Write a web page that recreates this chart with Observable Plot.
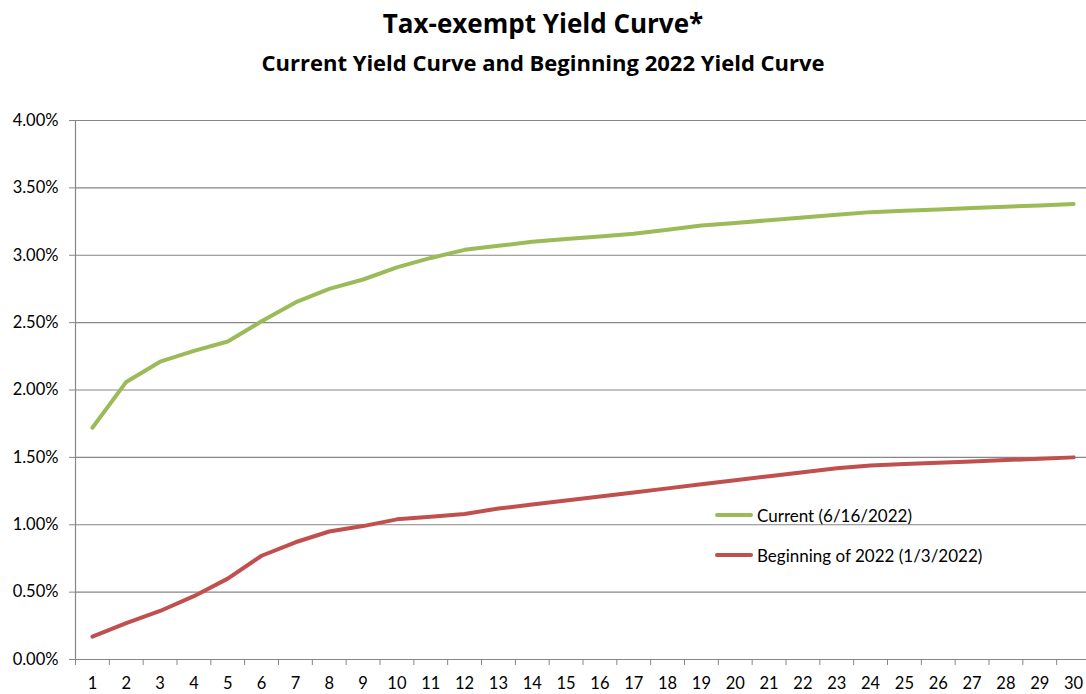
<!DOCTYPE html>
<html>
<head>
<meta charset="utf-8">
<script src="https://cdn.jsdelivr.net/npm/d3@7"></script>
<script src="https://cdn.jsdelivr.net/npm/@observablehq/plot@0.6"></script>
<style>
  body { margin: 0; background: #fff; font-family: Lato, "Open Sans", sans-serif; color: #000; }
  #wrap { position: relative; width: 1086px; height: 694px; overflow: hidden; }
  #title { height: 46px; line-height: 46px; text-align: center; font-weight: bold; font-size: 26px; font-family: "Open Sans", sans-serif; }
  #subtitle { height: 32px; line-height: 32px; text-align: center; font-weight: bold; font-size: 22px; font-family: "Open Sans", sans-serif; }
  #spacer { height: 22px; }
  #legend { position: absolute; left: 715px; top: 503px; font-size: 17px; }
  .item { display: flex; align-items: center; height: 24px; margin-bottom: 16px; }
  .sw { width: 38px; height: 4px; border-radius: 2px; margin-right: 4px; }
</style>
</head>
<body>
<div id="wrap">
  <div id="title">Tax-exempt Yield Curve*</div>
  <div id="subtitle">Current Yield Curve and Beginning 2022 Yield Curve</div>
  <div id="spacer"></div>
  <div id="chart"></div>
  <div id="legend"></div>
</div>
<script>
const years = [1,2,3,4,5,6,7,8,9,10,11,12,13,14,15,16,17,18,19,20,21,22,23,24,25,26,27,28,29,30];
const current = [1.72,2.06,2.21,2.29,2.36,2.51,2.65,2.75,2.82,2.91,2.98,3.04,3.07,3.10,3.12,3.14,3.16,3.19,3.22,3.24,3.26,3.28,3.30,3.32,3.33,3.34,3.35,3.36,3.37,3.38];
const beginning = [0.17,0.27,0.36,0.47,0.60,0.77,0.87,0.95,0.99,1.04,1.06,1.08,1.12,1.15,1.18,1.21,1.24,1.27,1.30,1.33,1.36,1.39,1.42,1.44,1.45,1.46,1.47,1.48,1.49,1.50];
const seriesNames = ["Current (6/16/2022)", "Beginning of 2022 (1/3/2022)"];
const seriesColors = ["#9BBB59", "#C0504D"];
const yTicks = [0, 0.5, 1, 1.5, 2, 2.5, 3, 3.5, 4];

const rows = [];
years.forEach((yr, i) => {
  rows.push({year: yr, value: current[i], series: seriesNames[0]});
  rows.push({year: yr, value: beginning[i], series: seriesNames[1]});
});
const bounds = [0.5, ...years.map(y => y + 0.5)];
const gray = "#868686";

const chart = Plot.plot({
  width: 1086,
  height: 594,
  marginTop: 20,
  marginBottom: 35,
  marginLeft: 75,
  marginRight: 0,
  style: {fontFamily: "Lato, 'Open Sans', sans-serif", fontSize: "16px", color: "#000", background: "#fff", overflow: "visible"},
  x: {type: "linear", domain: [0.5, 30.5], range: [75, 1090]},
  y: {domain: [0, 4]},
  color: {domain: seriesNames, range: seriesColors},
  marks: [
    Plot.gridY(yTicks.slice(1), {stroke: gray, strokeOpacity: 1, strokeWidth: 1.2}),
    Plot.axisY(yTicks, {tickSize: 6, tickPadding: 11, tickFormat: d => d.toFixed(2) + "%", stroke: gray, fontSize: 16.5, label: null}),
    Plot.axisX(bounds, {tickSize: 6, tickFormat: () => "", stroke: gray, label: null}),
    Plot.axisX(years, {tickSize: 0, tickPadding: 18, fontSize: 16.5, label: null}),
    Plot.ruleX([0.5], {stroke: gray, strokeWidth: 1.2}),
    Plot.ruleY([0], {stroke: gray, strokeWidth: 1.2}),
    Plot.lineY(rows, {x: "year", y: "value", z: "series", stroke: "series", strokeWidth: 4, strokeLinecap: "round", strokeLinejoin: "round"})
  ]
});
document.getElementById("chart").appendChild(chart);

const legend = document.getElementById("legend");
seriesNames.forEach((name, i) => {
  const item = document.createElement("div");
  item.className = "item";
  const sw = document.createElement("span");
  sw.className = "sw";
  sw.style.background = seriesColors[i];
  const t = document.createElement("span");
  t.textContent = name;
  item.appendChild(sw);
  item.appendChild(t);
  legend.appendChild(item);
});
</script>
</body>
</html>
